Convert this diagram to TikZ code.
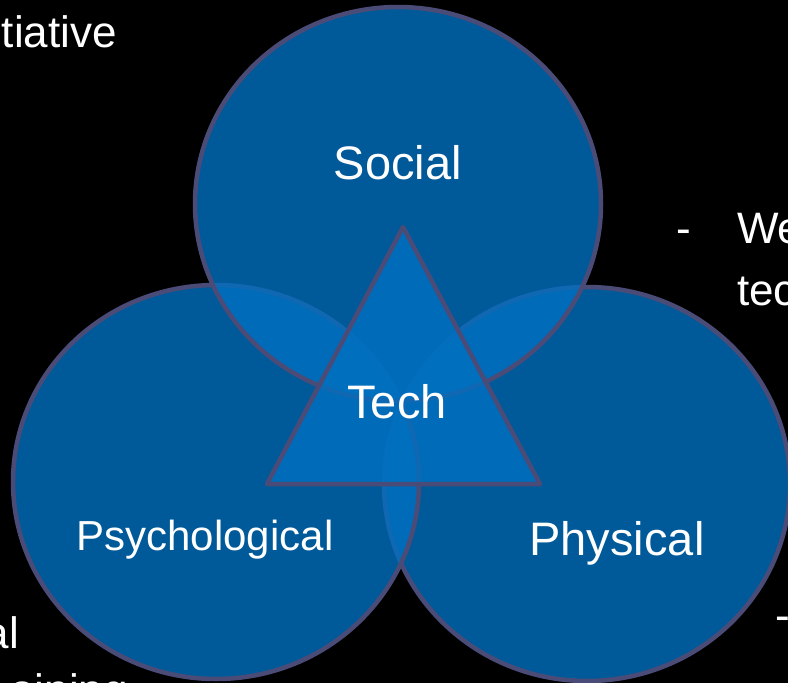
\documentclass[tikz,border=0pt]{standalone}
\usepackage{fontspec}
\setmainfont{Liberation Sans}
\usetikzlibrary{shapes.geometric}
\definecolor{fillblue}{RGB}{0,112,192}
\definecolor{edgecol}{RGB}{75,75,120}
\begin{document}
\begin{tikzpicture}[x=1pt,y=-1pt,
  ring/.style={draw=edgecol, line width=4.5pt, fill=fillblue, fill opacity=0.8, draw opacity=1},
  disc/.style={ring, ellipse, minimum width=406pt, minimum height=394pt, inner sep=0pt},
  lbl/.style={text=white, font=\fontsize{47}{56}\selectfont, inner sep=0pt, anchor=base},
  side/.style={text=white, font=\fontsize{44}{62}\selectfont, inner sep=0pt}]
\fill[black] (0,0) rectangle (788,683);
\useasboundingbox (0,0) rectangle (788,683);
\clip (0,0) rectangle (788,683);
% circles: physical first, then psychological, then social
\node[disc] (phys) at (587,484) {};
\node[disc] (psych) at (216,482) {};
\node[disc] (soc) at (398,204) {};
% triangle
\coordinate (ta) at (403,227);
\coordinate (tb) at (267,484);
\coordinate (tc) at (540,484);
\draw[ring, line join=round] (ta) -- (tb) -- (tc) -- cycle;
% labels
\node[lbl] (lsoc) at (398,179) {Social};
\node[lbl] (ltech) at (397,418) {Tech};
\node[lbl, font=\fontsize{42}{50}\selectfont] (lpsych) at (205,550) {Psychological};
\node[lbl] (lphys) at (617,555) {Physical};
% side texts
\node[side, anchor=base east] (t1) at (117,47) {tiative};
\node[side, anchor=base west] (d1) at (676,243) {-};
\node[side, anchor=base west] (t2) at (737,243) {We};
\node[side, anchor=base west] (t3) at (737,305) {tec};
\node[side, anchor=base east] (t4) at (19,648) {al};
\node[side, anchor=base east] (t5) at (128,705) {aining};
\node[side, anchor=base west] (d2) at (775,630) {-};
\end{tikzpicture}
\end{document}
